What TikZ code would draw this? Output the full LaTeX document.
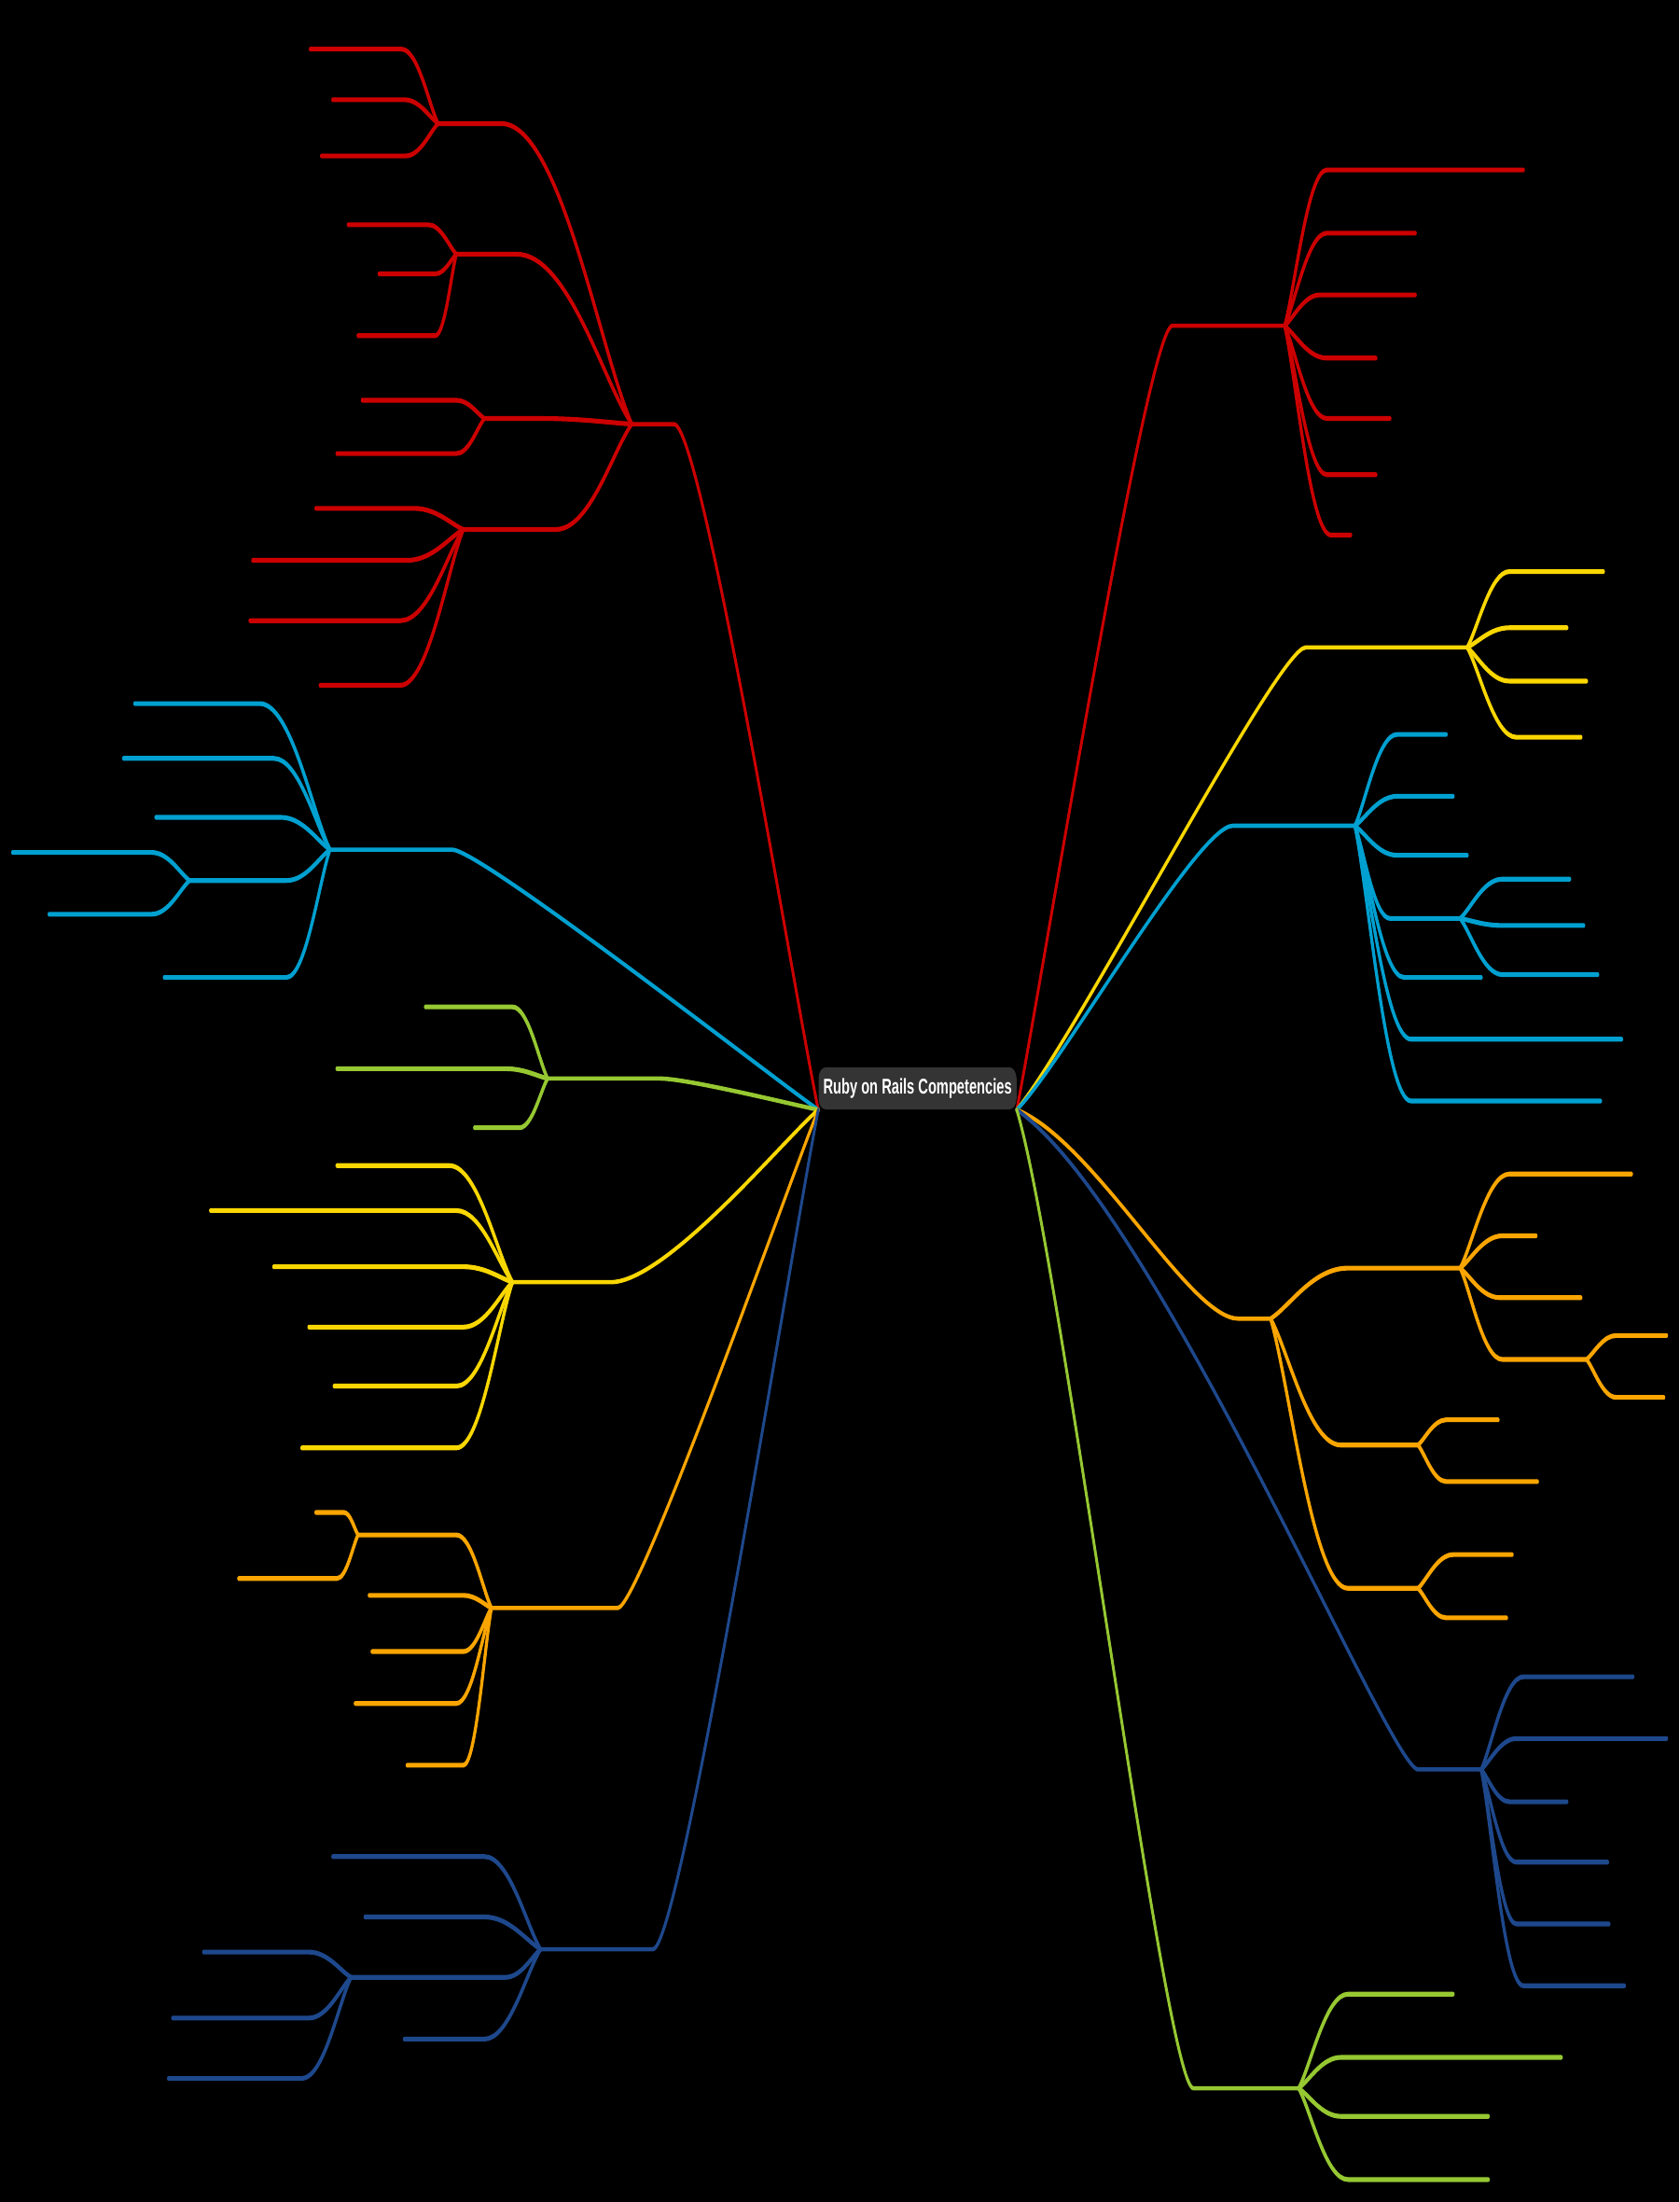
\documentclass[tikz,border=0pt]{standalone}
\usepackage{fontspec}
\setmainfont{Liberation Sans}
\usetikzlibrary{calc}
\definecolor{cred}{RGB}{204,0,0}
\definecolor{cyellow}{RGB}{250,215,0}
\definecolor{ccyan}{RGB}{0,160,208}
\definecolor{cgreen}{RGB}{150,200,50}
\definecolor{corange}{RGB}{250,165,0}
\definecolor{cblue}{RGB}{30,72,140}
\definecolor{cbox}{RGB}{52,52,52}
\tikzset{
  mainline/.style={line width=2.6pt,line cap=round},
  subline/.style={line width=2.9pt,line cap=round},
  centre/.style={fill=cbox,rounded corners=0.24cm,minimum width=6.61cm,minimum height=0.9cm,inner sep=0pt,text=white,font=\fontsize{13}{14}\selectfont\bfseries}
}
% main branch: colour, name, near x, far x, y, parent, end arm (signed, px), start x-fraction
\newcommand\M[8]{\coordinate (#2) at (#3,#5); \coordinate (#2f) at (#4,#5);
  \draw[mainline,#1] let \p1=(#6),\p2=(#2) in (\p1) .. controls ({\x1+#8*(\x2-\x1)},{\y1+0.15*(\y2-\y1)}) and ({\x2-(#7)*1.3287pt},\y2) .. (\p2) -- (#2f);}
% sub branch: colour, parent, name, near x, far x, y
\newcommand\B[6]{\coordinate (#3) at (#4,#6); \coordinate (#3f) at (#5,#6);
  \draw[subline,#1] let \p1=(#2),\p2=(#3) in (\p1) .. controls ({\x1+0.25*(\x2-\x1)},{\y1+0.25*(\y2-\y1)}) and ({\x2-0.45*(\x2-\x1)},\y2) .. (\p2) -- (#3f);}
\begin{document}
\begin{tikzpicture}[x=0.03cm,y=-0.03cm]
\fill[black] (0,0) rectangle (1196,1568);
\useasboundingbox (0,0) rectangle (1196,1568);
\begin{scope}[x=0.046875cm,y=-0.03cm,transform canvas={xscale=0.64}]
\node[centre] (c) at (653.5,775) {Ruby on Rails Competencies};
\coordinate (L) at (c.south west);
\coordinate (R) at (c.south east);
% ---------- left red
\M{cred}{LR}{480}{450}{302}{L}{-20}{0.15}
\B{cred}{LRf}{LR1}{357}{312}{88}
\B{cred}{LR1f}{LR1a}{286}{221}{35}
\B{cred}{LR1f}{LR1b}{288}{237}{71}
\B{cred}{LR1f}{LR1c}{289}{229}{111}
\B{cred}{LRf}{LR2}{368}{325}{181}
\B{cred}{LR2f}{LR2a}{305}{248}{160}
\B{cred}{LR2f}{LR2b}{310}{270}{195}
\B{cred}{LR2f}{LR2c}{310}{255}{239}
\B{cred}{LRf}{LR3}{385}{345}{298}
\B{cred}{LR3f}{LR3a}{325}{258}{285}
\B{cred}{LR3f}{LR3b}{325}{240}{323}
\B{cred}{LRf}{LR4}{396}{330}{377}
\B{cred}{LR4f}{LR4a}{295}{225}{362}
\B{cred}{LR4f}{LR4b}{290}{180}{399}
\B{cred}{LR4f}{LR4c}{285}{178}{442}
\B{cred}{LR4f}{LR4d}{285}{228}{488}
% ---------- left cyan
\M{ccyan}{LC}{322}{235}{605}{L}{-20}{0.15}
\B{ccyan}{LCf}{LC1}{185}{96}{501}
\B{ccyan}{LCf}{LC2}{195}{88}{540}
\B{ccyan}{LCf}{LC3}{200}{111}{582}
\B{ccyan}{LCf}{LC4}{204}{135}{627}
\B{ccyan}{LC4f}{LC4a}{108}{9}{607}
\B{ccyan}{LC4f}{LC4b}{108}{35}{651}
\B{ccyan}{LCf}{LC5}{204}{117}{696}
% ---------- left green
\M{cgreen}{LG}{470}{390}{768}{L}{-20}{0.15}
\B{cgreen}{LGf}{LG1}{365}{303}{717}
\B{cgreen}{LGf}{LG2}{360}{240}{761}
\B{cgreen}{LGf}{LG3}{370}{338}{803}
% ---------- left yellow
\M{cyellow}{LY}{435}{365}{913}{L}{-40}{0.15}
\B{cyellow}{LYf}{LY1}{320}{240}{830}
\B{cyellow}{LYf}{LY2}{325}{150}{862}
\B{cyellow}{LYf}{LY3}{330}{195}{902}
\B{cyellow}{LYf}{LY4}{330}{220}{945}
\B{cyellow}{LYf}{LY5}{325}{238}{987}
\B{cyellow}{LYf}{LY6}{325}{215}{1031}
% ---------- left orange
\M{corange}{LO}{440}{350}{1145}{L}{-15}{0.15}
\B{corange}{LOf}{LO1}{325}{255}{1093}
\B{corange}{LO1f}{LO1a}{245}{225}{1077}
\B{corange}{LO1f}{LO1b}{240}{170}{1124}
\B{corange}{LOf}{LO2}{330}{263}{1136}
\B{corange}{LOf}{LO3}{330}{265}{1176}
\B{corange}{LOf}{LO4}{325}{253}{1213}
\B{corange}{LOf}{LO5}{330}{290}{1257}
% ---------- left blue
\M{cblue}{LB}{465}{385}{1388}{L}{-20}{0.15}
\B{cblue}{LBf}{LB1}{345}{237}{1322}
\B{cblue}{LBf}{LB2}{345}{260}{1365}
\B{cblue}{LBf}{LB3}{360}{250}{1408}
\B{cblue}{LB3f}{LB3a}{220}{145}{1390}
\B{cblue}{LB3f}{LB3b}{220}{123}{1437}
\B{cblue}{LB3f}{LB3c}{215}{120}{1480}
\B{cblue}{LBf}{LB4}{345}{288}{1452}
% ---------- right red
\M{cred}{RR}{835}{915}{232}{R}{18}{0.15}
\B{cred}{RRf}{RR1}{945}{1085}{121}
\B{cred}{RRf}{RR2}{945}{1008}{166}
\B{cred}{RRf}{RR3}{940}{1008}{210}
\B{cred}{RRf}{RR4}{945}{980}{255}
\B{cred}{RRf}{RR5}{945}{990}{298}
\B{cred}{RRf}{RR6}{945}{980}{338}
\B{cred}{RRf}{RR7}{948}{962}{381}
% ---------- right yellow
\M{cyellow}{RY}{930}{1045}{461}{R}{20}{0.2}
\B{cyellow}{RYf}{RY1}{1075}{1142}{407}
\B{cyellow}{RYf}{RY2}{1075}{1116}{447}
\B{cyellow}{RYf}{RY3}{1075}{1130}{485}
\B{cyellow}{RYf}{RY4}{1080}{1126}{525}
% ---------- right cyan
\M{ccyan}{RC}{878}{965}{588}{R}{25}{0.2}
\B{ccyan}{RCf}{RC1}{995}{1030}{523}
\B{ccyan}{RCf}{RC2}{995}{1035}{567}
\B{ccyan}{RCf}{RC3}{995}{1045}{609}
\B{ccyan}{RCf}{RC4}{990}{1040}{654}
\B{ccyan}{RC4f}{RC4a}{1070}{1118}{626}
\B{ccyan}{RC4f}{RC4b}{1070}{1128}{659}
\B{ccyan}{RC4f}{RC4c}{1070}{1138}{694}
\B{ccyan}{RCf}{RC5}{1000}{1055}{696}
\B{ccyan}{RCf}{RC6}{1005}{1155}{740}
\B{ccyan}{RCf}{RC7}{1005}{1140}{784}
% ---------- right orange
\M{corange}{RO}{882}{905}{939}{R}{35}{0.35}
\B{corange}{ROf}{RO1}{960}{1040}{903}
\B{corange}{RO1f}{RO1a}{1075}{1162}{836}
\B{corange}{RO1f}{RO1b}{1070}{1094}{880}
\B{corange}{RO1f}{RO1c}{1068}{1126}{924}
\B{corange}{RO1f}{RO1d}{1070}{1130}{968}
\B{corange}{RO1df}{RO1da}{1151}{1187}{951}
\B{corange}{RO1df}{RO1db}{1151}{1185}{995}
\B{corange}{ROf}{RO2}{955}{1010}{1029}
\B{corange}{RO2f}{RO2a}{1030}{1067}{1011}
\B{corange}{RO2f}{RO2b}{1030}{1095}{1055}
\B{corange}{ROf}{RO3}{960}{1010}{1131}
\B{corange}{RO3f}{RO3a}{1035}{1077}{1107}
\B{corange}{RO3f}{RO3b}{1030}{1073}{1152}
% ---------- right blue
\M{cblue}{RB}{1010}{1055}{1260}{R}{20}{0.35}
\B{cblue}{RBf}{RB1}{1085}{1163}{1194}
\B{cblue}{RBf}{RB2}{1080}{1187}{1238}
\B{cblue}{RBf}{RB3}{1075}{1116}{1283}
\B{cblue}{RBf}{RB4}{1080}{1145}{1326}
\B{cblue}{RBf}{RB5}{1080}{1146}{1370}
\B{cblue}{RBf}{RB6}{1085}{1157}{1414}
% ---------- right green
\M{cgreen}{RG}{850}{925}{1487}{R}{20}{0.25}
\B{cgreen}{RGf}{RG1}{960}{1035}{1420}
\B{cgreen}{RGf}{RG2}{955}{1112}{1465}
\B{cgreen}{RGf}{RG3}{955}{1060}{1507}
\B{cgreen}{RGf}{RG4}{960}{1060}{1552}
\end{scope}
\end{tikzpicture}
\end{document}
